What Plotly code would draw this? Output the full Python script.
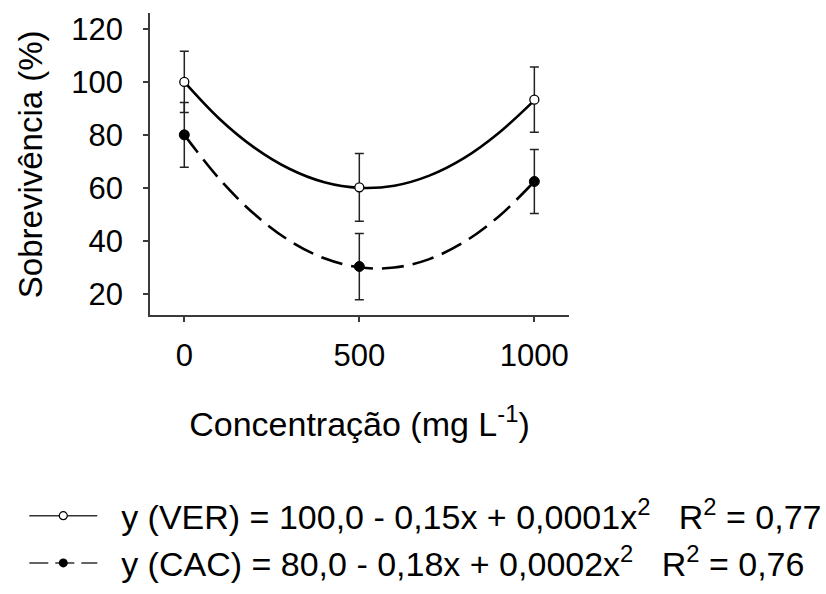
import plotly.graph_objects as go

# ---- data ----
conc = [0, 500, 1000]
ver_mean = [100.0, 60.2, 93.3]
ver_err = [11.6, 12.8, 12.3]
cac_mean = [80.0, 30.3, 62.4]
cac_err = [12.2, 12.5, 12.1]

# fitted curves
fit_x = [0, 100, 200, 300, 400, 500, 600, 700, 800, 900, 1000]
ver_fit = [100.0, 86.1, 75.2, 67.2, 62.1, 60.0, 60.8, 64.6, 71.3, 80.9, 93.0]
cac_fit = [80.0, 63.4, 50.1, 40.1, 33.4, 30.0, 29.9, 33.1, 39.6, 49.4, 62.4]

x_ticks = [0, 500, 1000]
y_ticks = [20, 40, 60, 80, 100, 120]

x_title = "Concentração (mg L<sup>-1</sup>)"
y_title = "Sobrevivência (%)"
leg_ver = "  y (VER) = 100,0 - 0,15x + 0,0001x<sup>2</sup>   R<sup>2</sup> = 0,77"
leg_cac = "  y (CAC) = 80,0 - 0,18x + 0,0002x<sup>2</sup>   R<sup>2</sup> = 0,76"

FONT = "Liberation Sans, Arial, sans-serif"
INK = "#000000"
AX = "#3a3a3a"

fig = go.Figure()

# fitted curves
fig.add_trace(go.Scatter(x=fit_x, y=ver_fit, mode="lines", line=dict(color=INK, width=2.6, shape="spline"),
                         showlegend=False, hoverinfo="skip"))
fig.add_trace(go.Scatter(x=fit_x, y=cac_fit, mode="lines",
                         line=dict(color=INK, width=2.6, shape="spline", dash="22px,9px"),
                         showlegend=False, hoverinfo="skip"))

# data points with error bars
fig.add_trace(go.Scatter(x=conc, y=ver_mean, mode="markers",
                         marker=dict(symbol="circle", size=9, color="white", line=dict(color=INK, width=1.3)),
                         error_y=dict(type="data", array=ver_err, visible=True, color="#222222", thickness=1.5, width=4.5),
                         showlegend=False))
fig.add_trace(go.Scatter(x=conc, y=cac_mean, mode="markers",
                         marker=dict(symbol="circle", size=10, color=INK, line=dict(color=INK, width=1)),
                         error_y=dict(type="data", array=cac_err, visible=True, color="#222222", thickness=1.5, width=4.5),
                         showlegend=False))

# legend entries
fig.add_trace(go.Scatter(x=[None], y=[None], mode="lines+markers", name=leg_ver, legendgroup="a",
                         line=dict(color="#333333", width=1.5),
                         marker=dict(symbol="circle", size=8, color="white", line=dict(color=INK, width=1.2))))
fig.add_trace(go.Scatter(x=[None], y=[None], mode="lines+markers", name=leg_cac, legendgroup="b",
                         line=dict(color="#333333", width=1.5, dash="19px,7px"),
                         marker=dict(symbol="circle", size=9, color=INK)))

fig.update_layout(
    width=826, height=594,
    margin=dict(l=150, r=257, t=13, b=279, autoexpand=False),
    paper_bgcolor="white", plot_bgcolor="white",
    font=dict(family=FONT, color=INK, size=30),
    showlegend=True,
    legend=dict(xref="container", yref="container", x=0.0294, xanchor="left", y=0.180, yanchor="top",
                font=dict(family=FONT, size=34, color=INK),
                itemwidth=68, tracegroupgap=0, bgcolor="rgba(0,0,0,0)",
                traceorder="grouped"),
)

# y-axis title as rotated text
fig.add_annotation(text=y_title, xref="paper", yref="paper", x=-0.286, y=0.5,
                   xanchor="center", yanchor="middle", textangle=-90, showarrow=False,
                   font=dict(family=FONT, size=33, color=INK))

fig.update_xaxes(range=[-98, 1099], tickvals=x_ticks, ticktext=[str(v) for v in x_ticks],
                 automargin=False,
                 showgrid=False, zeroline=False, showline=True, linecolor=AX, linewidth=1.6,
                 ticks="outside", ticklen=5, tickwidth=1.5, tickcolor=AX,
                 tickfont=dict(family=FONT, size=31, color=INK), ticklabelstandoff=7,
                 title=dict(text=x_title, font=dict(family=FONT, size=34, color=INK), standoff=40))
fig.update_yaxes(range=[12, 126], tickvals=y_ticks, ticktext=[str(v) for v in y_ticks],
                 automargin=False,
                 showgrid=False, zeroline=False, showline=True, linecolor=AX, linewidth=1.6,
                 ticks="outside", ticklen=5, tickwidth=1.5, tickcolor=AX,
                 tickfont=dict(family=FONT, size=31, color=INK), ticklabelstandoff=14)

fig.write_html("out.html")
